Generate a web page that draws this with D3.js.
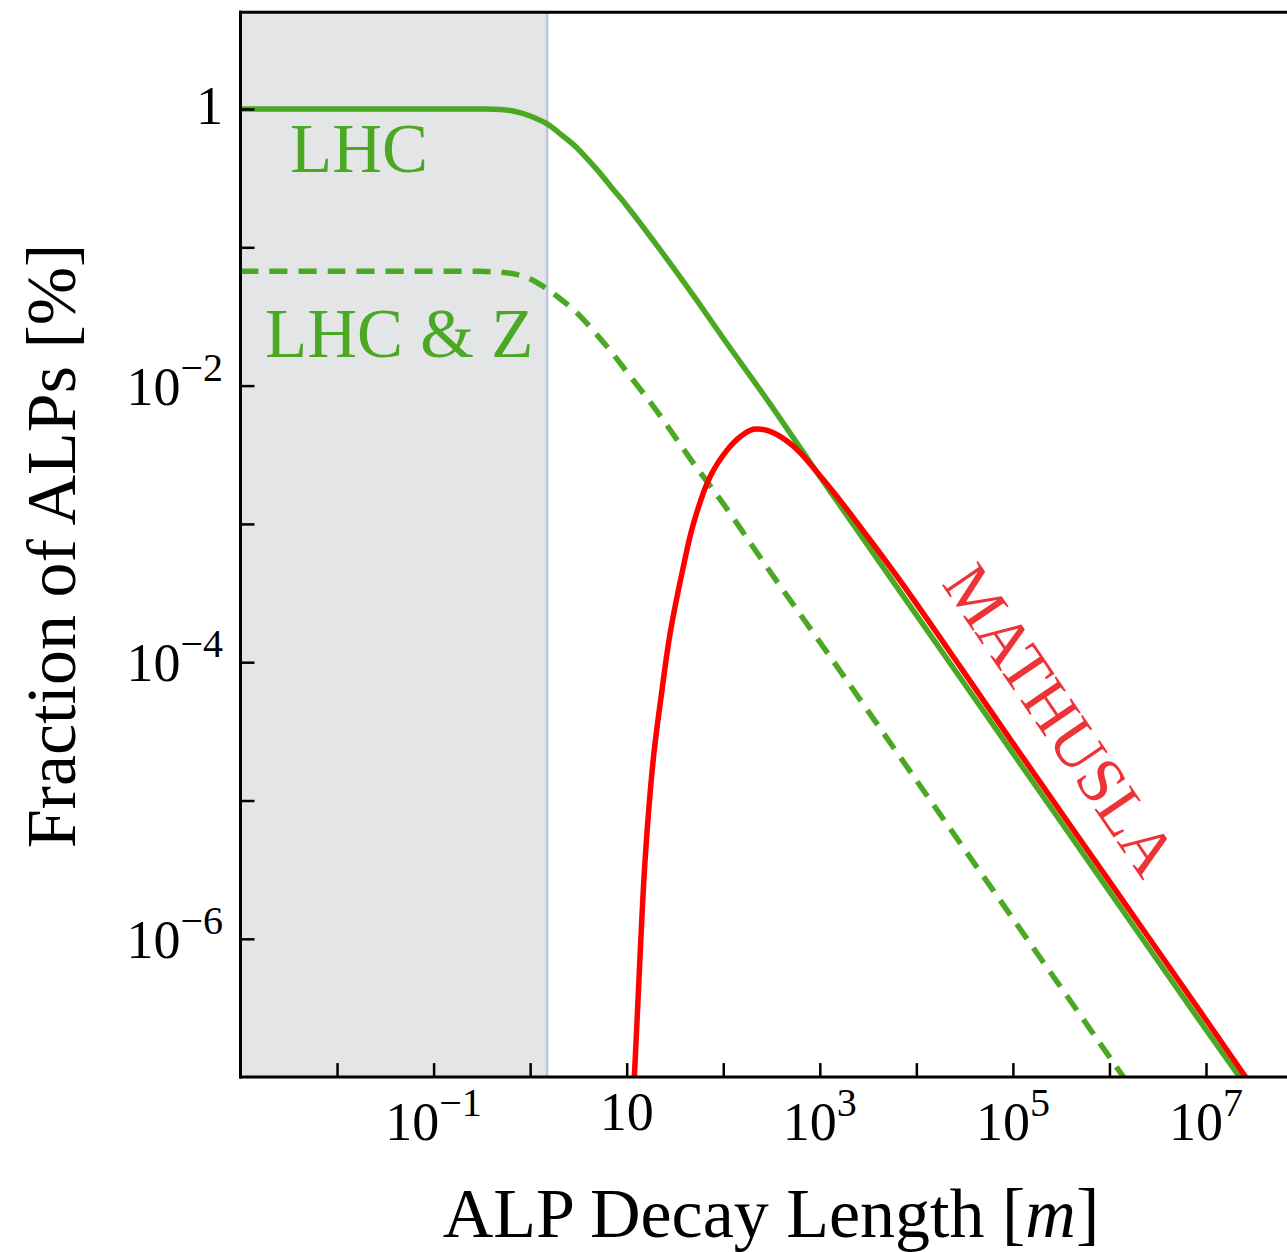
<!DOCTYPE html>
<html>
<head>
  <meta charset="utf-8">
  <title>ALP decay length</title>
  <script type="text/javascript" src="https://cdn.jsdelivr.net/npm/d3@7/dist/d3.min.js"></script>
  <style>
    body { margin: 0; background: #fff; }
    svg { display: block; }
    text { font-family: "Liberation Serif", "Times New Roman", serif; }
  </style>
</head>
<body>
<div id="chart"></div>

<script type="text/javascript">
// decay length [m] and fraction
var lhcL = [0.001, 0.01, 0.1, 0.3, 0.5, 0.7, 1, 1.5, 2, 3, 5, 7, 10, 20, 50, 100, 300, 1000, 1e4, 1e5, 1e6, 1e7, 3e7];
var lhcF = [1, 1, 1, 1, 0.99, 0.96, 0.89, 0.78, 0.67, 0.53, 0.36, 0.27, 0.20, 0.106, 0.044, 0.022, 0.0075, 0.0022, 2.2e-4, 2.2e-5, 2.2e-6, 2.2e-7, 7.5e-8];

var lhcZL = [0.001, 0.01, 0.1, 0.3, 0.5, 0.7, 1, 1.5, 2, 3, 5, 7, 10, 20, 50, 100, 300, 1000, 1e4, 1e5, 1e6, 2e6];
var lhcZF = [0.067, 0.067, 0.067, 0.067, 0.066, 0.064, 0.059, 0.050, 0.043, 0.034, 0.023, 0.0174, 0.0126, 0.0067, 0.0027, 0.0014, 4.6e-4, 1.4e-4, 1.4e-5, 1.4e-6, 1.4e-7, 7e-8];

var mathL = [11.2, 12, 13.7, 15.5, 18.8, 23, 28.1, 38.6, 49, 73, 109, 150, 205, 300, 532, 1000, 1620, 3000, 6760, 3e4, 1e5, 1e6, 1e7, 4e7];
var mathF = [5e-8, 1e-7, 7.1e-7, 3.7e-6, 1.95e-5, 6.0e-5, 1.6e-4, 4.9e-4, 1.0e-3, 2.19e-3, 3.4e-3, 4.27e-3, 4.83e-3, 4.68e-3, 3.65e-3, 2.24e-3, 1.48e-3, 8.4e-4, 3.9e-4, 8.8e-5, 2.6e-5, 2.6e-6, 2.6e-7, 6.4e-8];

var shadeMax = 1.5;  // grey band ends here [m]

var xTickVals = [1e-2, 1e-1, 1, 10, 1e2, 1e3, 1e4, 1e5, 1e6, 1e7, 1e8];
var xLabelVals = [1e-1, 10, 1e3, 1e5, 1e7];
var xLabelSup = ["\u22121", "", "3", "5", "7"];
var yTickVals = [1, 1e-1, 1e-2, 1e-3, 1e-4, 1e-5, 1e-6];
var yLabelVals = [1, 1e-2, 1e-4, 1e-6];
var yLabelSup = [null, "\u22122", "\u22124", "\u22126"];

var green = '#4ba823';
var red = '#ff0000';

var w = 1287, h = 1252;
var svg = d3.select('#chart').append('svg')
  .attr('width', w)
  .attr('height', h);

// one decade = 96.55px on x, 138.3px on y
var x = d3.scaleLog().domain([1e-3, 1e8]).range([240.5, 240.5 + 11 * 96.55]);
var y = d3.scaleLog().domain([1e-7, Math.pow(10, 0.7)]).range([109 + 7 * 138.3, 109 - 0.7 * 138.3]);

var x0 = x.range()[0], yb = y.range()[0], yt = y.range()[1];

svg.append('clipPath').attr('id', 'plot')
  .append('rect')
  .attr('x', x0).attr('y', yt)
  .attr('width', x.range()[1] - x0).attr('height', yb - yt);

// grey band
svg.append('rect')
  .attr('x', x0).attr('y', yt)
  .attr('width', x(shadeMax) - x0).attr('height', yb - yt)
  .attr('fill', '#e4e5e7');
svg.append('line')
  .attr('x1', x(shadeMax)).attr('x2', x(shadeMax))
  .attr('y1', yt).attr('y2', yb)
  .attr('stroke', '#bac6da').attr('stroke-width', 2.5);

var line = d3.line()
  .x(function(d){ return x(d[0]); })
  .y(function(d){ return y(d[1]); })
  .curve(d3.curveCatmullRom.alpha(0.5));

var g = svg.append('g').attr('clip-path', 'url(#plot)');

g.append('path')
  .attr('d', line(d3.zip(lhcZL, lhcZF)))
  .attr('fill', 'none').attr('stroke', green)
  .attr('stroke-width', 5.5).attr('stroke-dasharray', '18,11');

g.append('path')
  .attr('d', line(d3.zip(lhcL, lhcF)))
  .attr('fill', 'none').attr('stroke', green)
  .attr('stroke-width', 5.5);

g.append('path')
  .attr('d', line(d3.zip(mathL, mathF)))
  .attr('fill', 'none').attr('stroke', red)
  .attr('stroke-width', 5.5);

// axes, ticks pointing inward
var xAxis = svg.append('g')
  .attr('transform', 'translate(0,' + yb + ')')
  .call(d3.axisBottom(x).tickValues(xTickVals).tickSize(-14).tickFormat(''));
xAxis.select('.domain').remove();
xAxis.selectAll('line').attr('stroke', '#000').attr('stroke-width', 2.5);

var yAxis = svg.append('g')
  .attr('transform', 'translate(' + x0 + ',0)')
  .call(d3.axisLeft(y).tickValues(yTickVals).tickSize(-14).tickFormat(''));
yAxis.select('.domain').remove();
yAxis.selectAll('line').attr('stroke', '#000').attr('stroke-width', 2.5);

// frame
svg.append('line').attr('x1', x0 - 1.5).attr('x2', w + 10).attr('y1', yb).attr('y2', yb)
  .attr('stroke', '#000').attr('stroke-width', 3);
svg.append('line').attr('x1', x0).attr('x2', x0).attr('y1', yt - 1.5).attr('y2', yb + 1.5)
  .attr('stroke', '#000').attr('stroke-width', 3);
svg.append('line').attr('x1', x0 - 1.5).attr('x2', w + 10).attr('y1', yt).attr('y2', yt)
  .attr('stroke', '#000').attr('stroke-width', 3);

// tick labels
var xl = svg.selectAll('text.xl')
  .data(xLabelVals)
  .enter()
  .append('text')
  .attr('class', 'xl')
  .attr('x', function(d){ return x(d); })
  .attr('y', function(d, i){ return xLabelSup[i] ? 1140 : 1130; })
  .attr('text-anchor', 'middle')
  .attr('font-size', 54)
  .attr('fill', '#000');
xl.append('tspan').text('10');
xl.append('tspan')
  .attr('font-size', 40)
  .attr('dy', -24)
  .text(function(d, i){ return xLabelSup[i]; });

var yl = svg.selectAll('text.yl')
  .data(yLabelVals)
  .enter()
  .append('text')
  .attr('class', 'yl')
  .attr('x', 223)
  .attr('y', function(d, i){ return y(d) + (yLabelSup[i] ? 19 : 15); })
  .attr('text-anchor', 'end')
  .attr('font-size', 54)
  .attr('fill', '#000');
yl.append('tspan').text(function(d, i){ return yLabelSup[i] ? '10' : '1'; });
yl.append('tspan')
  .attr('font-size', 40)
  .attr('dy', -24)
  .text(function(d, i){ return yLabelSup[i] || ''; });

// axis titles
var xt = svg.append('text')
  .attr('x', 771).attr('y', 1237)
  .attr('text-anchor', 'middle')
  .attr('font-size', 70);
xt.append('tspan').text('ALP Decay Length [');
xt.append('tspan').attr('font-style', 'italic').text('m');
xt.append('tspan').text(']');

svg.append('text')
  .attr('transform', 'translate(75,546) rotate(-90)')
  .attr('text-anchor', 'middle')
  .attr('font-size', 70)
  .text('Fraction of ALPs [%]');

// curve labels
svg.append('text')
  .attr('x', 290).attr('y', 172)
  .attr('font-size', 69)
  .attr('fill', green)
  .text('LHC');
svg.append('text')
  .attr('x', 265).attr('y', 357)
  .attr('font-size', 69)
  .attr('fill', green)
  .text('LHC & Z');
svg.append('text')
  .attr('transform', 'translate(1060,720) rotate(55.8)')
  .attr('text-anchor', 'middle')
  .attr('dy', '0.33em')
  .attr('font-size', 66)
  .attr('fill', '#ee3338')
  .text('MATHUSLA');
</script>

</body>
</html>
